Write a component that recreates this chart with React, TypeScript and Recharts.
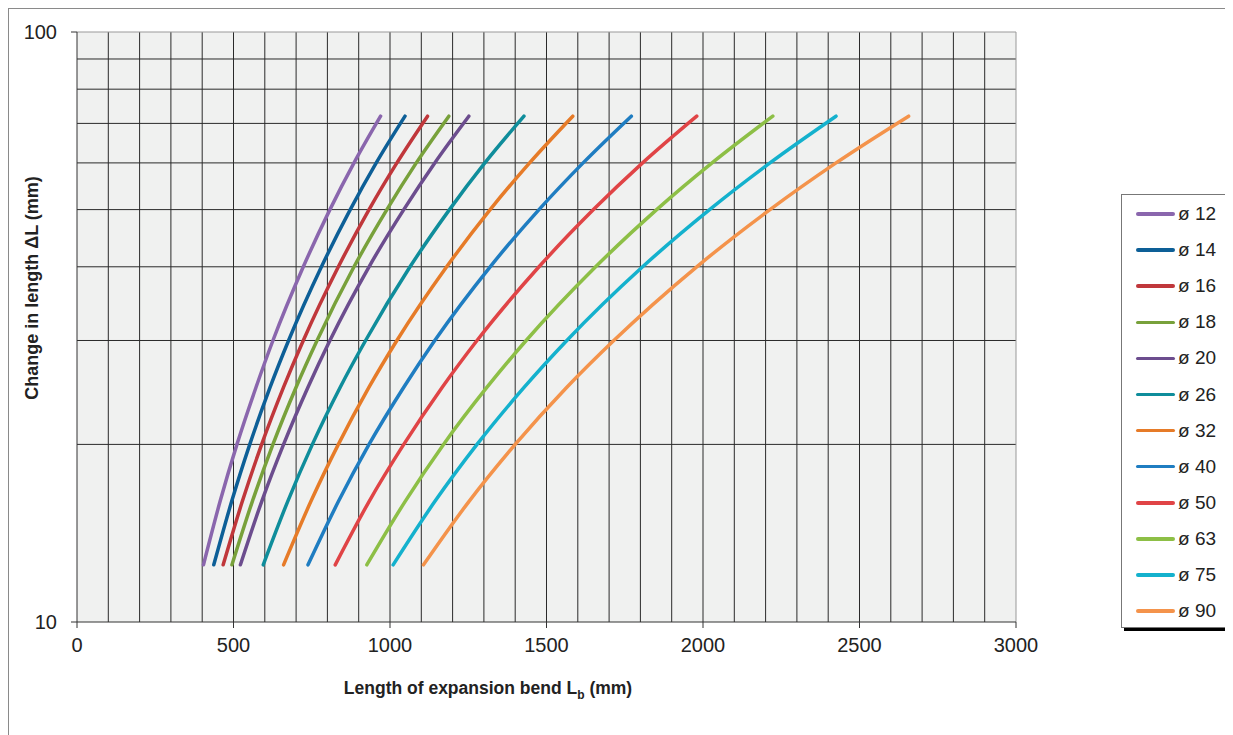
import { LineChart, Line, XAxis, YAxis, CartesianGrid, Label, ReferenceLine } from "recharts"

// change in length ΔL (mm) at which each curve was read
const deltaL = [12.5, 16, 20, 25, 30, 40, 50, 60, 72]

// length of expansion bend Lb (mm) per pipe diameter
const bend12 = [404, 457, 511, 572, 626, 723, 808, 885, 970]
const bend14 = [437, 494, 552, 617, 676, 781, 873, 956, 1048]
const bend16 = [467, 528, 590, 660, 723, 835, 933, 1022, 1120]
const bend18 = [495, 560, 626, 700, 767, 885, 990, 1084, 1188]
const bend20 = [522, 590, 660, 738, 808, 933, 1044, 1143, 1252]
const bend26 = [595, 673, 752, 841, 922, 1064, 1190, 1303, 1428]
const bend32 = [660, 747, 835, 933, 1022, 1181, 1320, 1446, 1584]
const bend40 = [738, 835, 933, 1044, 1143, 1320, 1476, 1617, 1771]
const bend50 = [825, 933, 1044, 1167, 1278, 1476, 1650, 1807, 1980]
const bend63 = [926, 1048, 1171, 1310, 1435, 1657, 1852, 2029, 2223]
const bend75 = [1010, 1143, 1278, 1429, 1565, 1807, 2021, 2214, 2425]
const bend90 = [1107, 1252, 1400, 1565, 1715, 1980, 2214, 2425, 2657]

const xTicks = [0, 500, 1000, 1500, 2000, 2500, 3000]
const yTicks = [10, 100]
const yGrid = [20, 30, 40, 50, 60, 70, 80, 90]
const xGrid = Array.from({ length: 29 }, (_, i) => (i + 1) * 100)

const series = [
  { name: "ø 12", lengths: bend12, color: "#8a66ad" },
  { name: "ø 14", lengths: bend14, color: "#0d5f97" },
  { name: "ø 16", lengths: bend16, color: "#c0373b" },
  { name: "ø 18", lengths: bend18, color: "#78a13b" },
  { name: "ø 20", lengths: bend20, color: "#6c4d8e" },
  { name: "ø 26", lengths: bend26, color: "#0f8d9b" },
  { name: "ø 32", lengths: bend32, color: "#e67b28" },
  { name: "ø 40", lengths: bend40, color: "#1f7dc1" },
  { name: "ø 50", lengths: bend50, color: "#e04446" },
  { name: "ø 63", lengths: bend63, color: "#8dbf46" },
  { name: "ø 75", lengths: bend75, color: "#14b1cd" },
  { name: "ø 90", lengths: bend90, color: "#f4934b" },
]

const font = "'Liberation Sans', Arial, sans-serif"

function BendLegend() {
  return (
    <div
      style={{
        position: "absolute",
        left: 1112,
        top: 185,
        width: 130,
        height: 434,
        border: "1px solid #777",
        borderRight: "none",
        boxShadow: "3px 3px 0 #000",
        background: "#fff",
        boxSizing: "border-box",
        paddingTop: 1,
        fontFamily: font,
      }}
    >
      {series.map((s) => (
        <div key={s.name} style={{ display: "flex", alignItems: "center", height: 36.1 }}>
          <div style={{ marginLeft: 14, width: 39, height: 3.5, borderRadius: 2, background: s.color }} />
          <span style={{ marginLeft: 3, fontSize: 19, color: "#222" }}>{s.name}</span>
        </div>
      ))}
    </div>
  )
}

// the axis titles in the original sit a little off the plot centre
function XTitle({ viewBox }: any) {
  return (
    <text x={488 - 9} y={viewBox.y + 72} textAnchor="middle" fontFamily={font} fontSize={17.5} fontWeight="bold" fill="#222">
      Length of expansion bend L
      <tspan fontSize={12} dy={5}>b</tspan>
      <tspan dy={-5}> (mm)</tspan>
    </text>
  )
}

function YTitle() {
  const cy = 288 - 9
  const x = 32 - 9
  return (
    <text
      x={x}
      y={cy}
      textAnchor="middle"
      dominantBaseline="central"
      transform={`rotate(-90 ${x} ${cy})`}
      fontFamily={font}
      fontSize={18}
      fontWeight="bold"
      fill="#222"
    >
      Change in length ΔL (mm)
    </text>
  )
}

const tickStyle = { fill: "#222", fontSize: 20, fontFamily: font }

export default function App() {
  return (
    <div
      style={{
        position: "relative",
        width: 1240,
        height: 740,
        border: "1px solid #8a8a8a",
        boxSizing: "border-box",
        background: "#fff",
      }}
    >
      <LineChart width={1230} height={730} margin={{ top: 23, right: 223, bottom: 77, left: 8 }}>
        <CartesianGrid
          fill="#f0f1f0"
          stroke="#2a2a2a"
          strokeWidth={1}
          horizontalValues={yGrid}
          verticalValues={xGrid}
        />
        <ReferenceLine x={3000} stroke="#999" />
        <ReferenceLine y={100} stroke="#999" />
        <XAxis
          type="number"
          dataKey="length"
          domain={[0, 3000]}
          ticks={xTicks}
          interval={0}
          stroke="#333"
          tickSize={6}
          tickMargin={10}
          fontSize={20}
          tick={tickStyle}
          height={40}
          allowDataOverflow
        >
          <Label content={<XTitle />} />
        </XAxis>
        <YAxis
          type="number"
          dataKey="dl"
          scale="log"
          domain={[10, 100]}
          ticks={yTicks}
          interval={0}
          stroke="#333"
          tickSize={6}
          tickMargin={14}
          fontSize={20}
          tick={tickStyle}
          width={60}
          allowDataOverflow
        >
          <Label content={<YTitle />} />
        </YAxis>
        {series.map((s) => (
          <Line
            key={s.name}
            name={s.name}
            data={s.lengths.map((length, i) => ({ length, dl: deltaL[i] }))}
            dataKey="dl"
            type="monotone"
            stroke={s.color}
            strokeWidth={3.5}
            strokeLinecap="round"
            dot={false}
            activeDot={false}
            isAnimationActive={false}
          />
        ))}
      </LineChart>
      <BendLegend />
    </div>
  )
}
